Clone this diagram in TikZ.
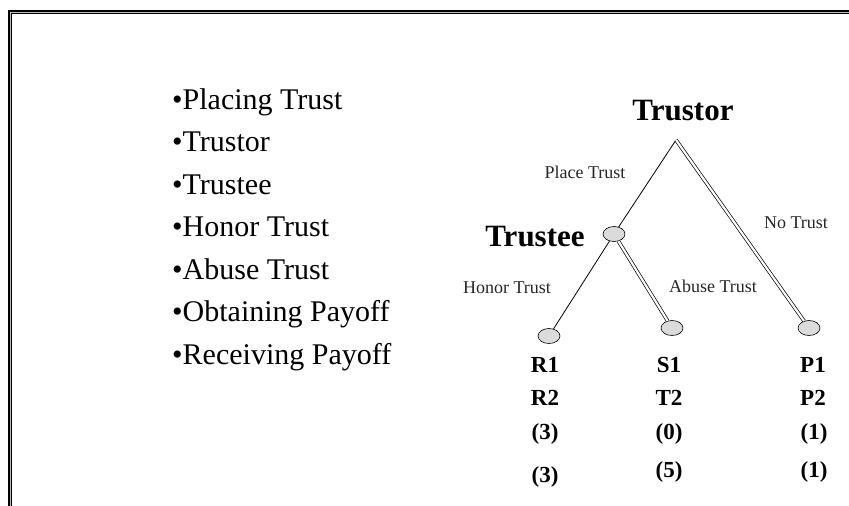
\documentclass[tikz,border=0pt]{standalone}
\usepackage{fontspec}
\setmainfont{Liberation Serif}
\usetikzlibrary{shapes.geometric}

\tikzset{
  listitem/.style={anchor=base west, inner sep=0pt, font=\fontsize{30}{36}\selectfont},
  player/.style={anchor=base, inner sep=0pt, font=\fontsize{31}{36}\selectfont\bfseries},
  move/.style={anchor=base, inner sep=0pt, font=\fontsize{18}{21}\selectfont, text=black!85},
  payoff/.style={anchor=base, inner sep=0pt, font=\fontsize{23}{27}\selectfont\bfseries},
  decision/.style={ellipse, draw, line width=0.6pt, fill=gray!28,
    minimum width=22pt, minimum height=15pt, inner sep=0pt},
  branch/.style={line width=0.8pt},
  eqpath/.style={double, double distance=2.2pt, line width=0.7pt},
  frameline/.style={line width=1.3pt, double=gray!55, double distance=1pt}
}

\begin{document}
\begin{tikzpicture}[x=1pt, y=-1pt]
  \useasboundingbox (0,0) rectangle (849,506);

  % slide frame (left and top edges)
  \draw[frameline] (10,506) -- (10,12) -- (849,12);

  % glossary list
  \node[listitem] (l1) at (172,109)   {•Placing Trust};
  \node[listitem] (l2) at (172,151.5) {•Trustor};
  \node[listitem] (l3) at (172,194)   {•Trustee};
  \node[listitem] (l4) at (172,236.5) {•Honor Trust};
  \node[listitem] (l5) at (172,279)   {•Abuse Trust};
  \node[listitem] (l6) at (172,321.5) {•Obtaining Payoff};
  \node[listitem] (l7) at (172,364)   {•Receiving Payoff};

  % game tree
  \coordinate (root) at (676,140);
  \node[decision] (te) at (614,234) {};
  \node[decision] (hon) at (549,336) {};
  \node[decision] (abu) at (672,328) {};
  \node[decision] (not) at (809,328) {};

  \draw[branch] (root) -- (te);
  \draw[eqpath] (root) -- (not);
  \draw[branch] (te) -- (hon);
  \draw[eqpath] (te) -- (abu);

  % players
  \node[player] (trustor) at (683,120) {Trustor};
  \node[player] (trustee) at (535,246) {Trustee};

  % moves
  \node[move] (mplace) at (585,178) {Place Trust};
  \node[move] (mno)    at (796,228) {No Trust};
  \node[move] (mhon)   at (507,293) {Honor Trust};
  \node[move] (mabu)   at (713,292) {Abuse Trust};

  % payoffs
  \node[payoff] (r1) at (545,372.5) {R1};
  \node[payoff] (r2) at (545,405.5) {R2};
  \node[payoff] (r3) at (545,439.5) {(3)};
  \node[payoff] (r4) at (545,482.5) {(3)};

  \node[payoff] (s1) at (669,372.5) {S1};
  \node[payoff] (s2) at (669,405.5) {T2};
  \node[payoff] (s3) at (669,439.5) {(0)};
  \node[payoff] (s4) at (669,477.5) {(5)};

  \node[payoff] (p1) at (813,372.5) {P1};
  \node[payoff] (p2) at (813,405.5) {P2};
  \node[payoff] (p3) at (814,439.5) {(1)};
  \node[payoff] (p4) at (814,477.5) {(1)};
\end{tikzpicture}
\end{document}
